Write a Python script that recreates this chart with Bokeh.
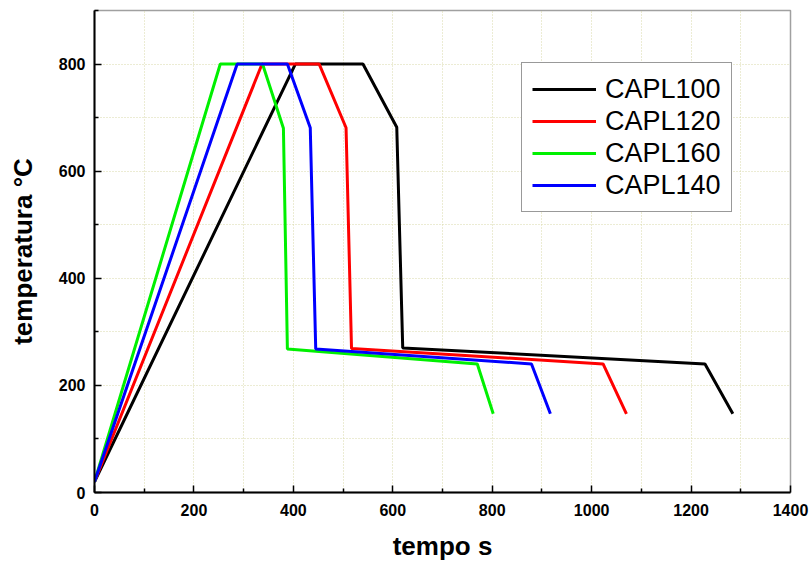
from bokeh.plotting import figure
from bokeh.models import FixedTicker, Range1d, Legend, LegendItem
from bokeh.embed import file_html
from bokeh.resources import INLINE

# ---- data ----
series_names = ["CAPL100", "CAPL120", "CAPL160", "CAPL140"]
capl100_t = [0, 404, 540, 608, 620, 1228, 1284]
capl100_T = [20, 800, 800, 682, 270, 240, 147]
capl120_t = [0, 337, 452, 506, 517, 1023, 1070]
capl120_T = [20, 800, 800, 681, 269, 240, 147]
capl160_t = [0, 253, 338, 380, 388, 770, 802]
capl160_T = [20, 800, 800, 680, 268, 240, 147]
capl140_t = [0, 287, 388, 434, 445, 879, 917]
capl140_T = [20, 800, 800, 681, 268, 240, 147]
x_ticks = [0, 200, 400, 600, 800, 1000, 1200, 1400]
x_minor = [100, 300, 500, 700, 900, 1100, 1300]
y_ticks = [0, 200, 400, 600, 800]
y_minor = [100, 300, 500, 700, 900]

colors = ["#000000", "#ff0000", "#00f000", "#0000ff"]

p = figure(width=809, height=565, output_backend="svg", toolbar_location=None,
           x_range=Range1d(0, 1400), y_range=Range1d(0, 900),
           min_border_left=94, min_border_right=19, min_border_top=10,
           min_border_bottom=73)
p.background_fill_color = "white"
p.border_fill_color = "white"
p.outline_line_color = "#a0a0a0"
p.outline_line_width = 1.5

font = "Liberation Sans"
for ax, ticks, minor in ((p.xaxis[0], x_ticks, x_minor), (p.yaxis[0], y_ticks, y_minor)):
    ax.ticker = FixedTicker(ticks=ticks, minor_ticks=minor)
    ax.axis_line_color = "black"
    ax.axis_line_width = 2
    ax.major_tick_in = 7
    ax.major_tick_out = 0
    ax.minor_tick_in = 4
    ax.minor_tick_out = 0
    ax.major_tick_line_width = 1.5
    ax.minor_tick_line_width = 1.5
    ax.major_label_text_font = font
    ax.major_label_text_font_style = "bold"
    ax.major_label_text_font_size = "16px"
    ax.major_label_text_color = "black"
    ax.axis_label_text_font = font
    ax.axis_label_text_font_style = "bold"
    ax.axis_label_text_font_size = "26px"
    ax.axis_label_text_color = "black"

p.xaxis.axis_label = "tempo s"
p.yaxis.axis_label = "temperatura °C"
p.xaxis.major_label_standoff = 11
p.yaxis.major_label_standoff = 9
p.xaxis.axis_label_standoff = 12
p.yaxis.axis_label_standoff = 18

for g in (p.xgrid[0], p.ygrid[0]):
    g.grid_line_color = "#d8d8a8"
    g.grid_line_dash = "1 2"
    g.grid_line_width = 1
    g.minor_grid_line_color = "#d8d8a8"
    g.minor_grid_line_dash = "1 2"
    g.minor_grid_line_width = 1

data = [(capl100_t, capl100_T), (capl120_t, capl120_T),
        (capl160_t, capl160_T), (capl140_t, capl140_T)]
items = []
for name, (xs, ys), c in zip(series_names, data, colors):
    r = p.line(xs, ys, line_color=c, line_width=3)
    items.append(LegendItem(label=name, renderers=[r]))

legend = Legend(items=items, location=(427, 280))
legend.label_text_font = font
legend.label_text_font_size = "27px"
legend.label_text_color = "black"
legend.glyph_width = 64
legend.glyph_height = 32
legend.label_height = 32
legend.label_standoff = 9
legend.spacing = 0
legend.padding = 10
legend.margin = 0
legend.border_line_color = "#333333"
legend.border_line_width = 1.5
legend.background_fill_alpha = 1
p.add_layout(legend)

open("out.html", "w").write(file_html(p, INLINE))
